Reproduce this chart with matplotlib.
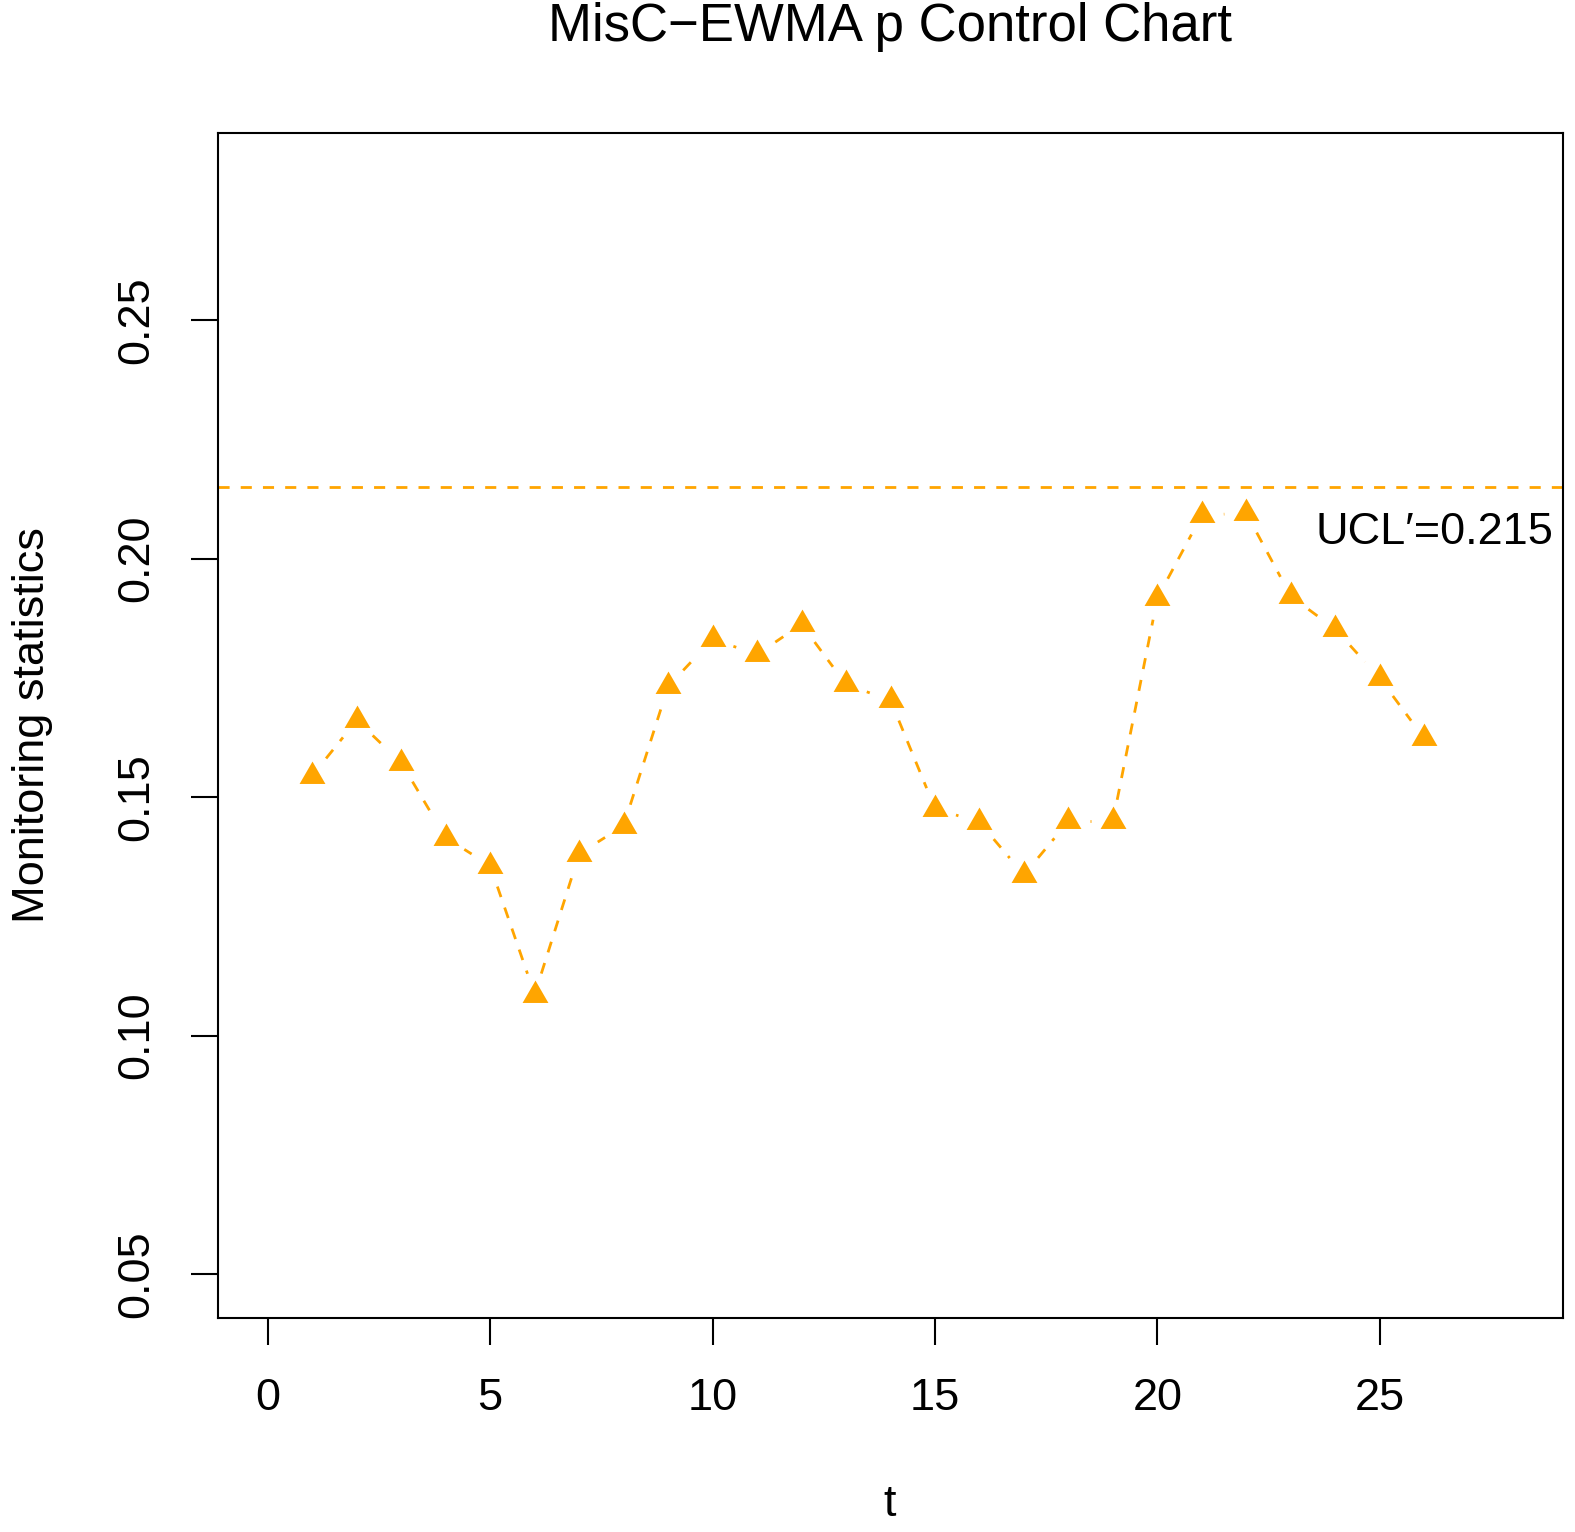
import numpy as np
import matplotlib
matplotlib.use("Agg")
import matplotlib.pyplot as plt
from matplotlib.path import Path

# monitoring statistics
t = np.arange(1, 27)
stat = [0.1545, 0.1661, 0.1572, 0.1415, 0.1356, 0.1086, 0.1381, 0.1440,
        0.1732, 0.1831, 0.1799, 0.1862, 0.1736, 0.1703, 0.1476, 0.1447,
        0.1337, 0.1449, 0.1449, 0.1917, 0.2091, 0.2095, 0.1921, 0.1852,
        0.1749, 0.1623]
ucl = 0.215
xticks = [0, 5, 10, 15, 20, 25]
yticks = [0.05, 0.10, 0.15, 0.20, 0.25]

plt.rcParams['font.family'] = ['Liberation Sans', 'DejaVu Sans']
col = '#FFA500'
fs = 32.5
W, H = 1575, 1532

fig = plt.figure(figsize=(W / 100, H / 100), dpi=100)
ax = fig.add_axes([218 / W, 1 - 1318 / H, (1563 - 218) / W, (1318 - 133) / H])
ax.set_xlim(-1.12, 29.12)
ax.set_ylim(0.0408, 0.2892)

# R type="b": dashed segments with gaps round each point
gap = 22
pts = ax.transData.transform(np.column_stack([t, stat]))
for p0, p1 in zip(pts[:-1], pts[1:]):
    d = p1 - p0
    L = np.hypot(*d)
    if L <= 2 * gap:
        continue
    u = d / L
    seg = ax.transData.inverted().transform(np.array([p0 + u * gap, p1 - u * gap]))
    ax.plot(seg[:, 0], seg[:, 1], color=col, lw=2.0, dashes=(4, 4))

tri = Path([(-1, -0.577), (1, -0.577), (0, 1.155), (-1, -0.577)],
           [Path.MOVETO, Path.LINETO, Path.LINETO, Path.CLOSEPOLY])
ax.plot(t, stat, linestyle='none', marker=tri, markersize=21.5, color=col, markeredgewidth=0)

ax.axhline(ucl, color=col, lw=2.0, dashes=(4, 4))
ax.text(0.993, 0.215 - 0.0095, "UCL\u2032=0.215", transform=ax.get_yaxis_transform(),
        ha='right', va='center', fontsize=fs)

ax.set_xticks(xticks)
ax.set_xticklabels([str(x) for x in xticks])
ax.set_yticks(yticks)
ax.set_yticklabels(['%.2f' % y for y in yticks], rotation=90, va='center')
ax.tick_params(direction='out', length=19.4, width=1.5, labelsize=fs)
ax.tick_params(axis='x', pad=24)
ax.tick_params(axis='y', pad=24)
for s in ax.spines.values():
    s.set_linewidth(1.5)

fig.text(890 / W, 1 - 27 / H, "MisC\u2212EWMA p Control Chart",
         family=['Liberation Sans Narrow', 'Liberation Sans', 'DejaVu Sans'],
         fontsize=38, ha='center', va='center')
fig.text(890 / W, 1 - 1505 / H, "t", fontsize=fs, ha='center', va='center')
fig.text(33 / W, 1 - 725 / H, "Monitoring statistics", fontsize=fs, rotation=90,
         ha='center', va='center')

fig.savefig("out.png", dpi=100)
